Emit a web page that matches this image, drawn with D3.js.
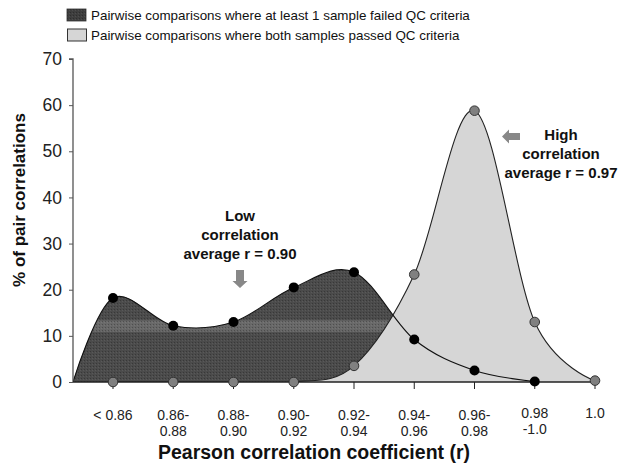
<!DOCTYPE html>
<html>
<head>
<meta charset="utf-8">
<script src="https://cdn.jsdelivr.net/npm/d3@7"></script>
<style>
  body { margin: 0; background: #fff; }
  svg { font-family: "Liberation Sans", Arial, sans-serif; }
</style>
</head>
<body>
<script>
const w = 624;
const h = 472;

// x categories, each label split into its printed lines
const categories = ['<0.86', '0.86-0.88', '0.88-0.90', '0.90-0.92', '0.92-0.94', '0.94-0.96', '0.96-0.98', '0.98-1.0', '1.0'];
const tickLabels = [['< 0.86'], ['0.86-', '0.88'], ['0.88-', '0.90'], ['0.90-', '0.92'], ['0.92-', '0.94'], ['0.94-', '0.96'], ['0.96-', '0.98'], ['0.98', '-1.0'], ['1.0']];

// % of pair correlations
const failedQC = [18.2, 12.2, 13.0, 20.5, 23.8, 9.2, 2.5, 0.1, null];
const passedQC = [0, 0, 0, 0, 3.5, 23.3, 58.8, 13.0, 0.3];

const yTicks = [0, 10, 20, 30, 40, 50, 60, 70];
const legendLabels = [
  'Pairwise comparisons where at least 1 sample failed QC criteria',
  'Pairwise comparisons where both samples passed QC criteria'
];

const plot = { left: 73, top: 59, bottom: 382, right: 595 };

const svg = d3.select('body').append('svg')
  .attr('width', w)
  .attr('height', h);

const defs = svg.append('defs');

const yScale = d3.scaleLinear().domain([0, 70]).range([plot.bottom, plot.top]);
const xScale = d3.scalePoint().domain(categories).range([113, plot.right]);

// dark fill: grey with a lighter horizontal band and a fine dotted texture
const grad = defs.append('linearGradient')
  .attr('id', 'darkGrad')
  .attr('gradientUnits', 'userSpaceOnUse')
  .attr('x1', 0).attr('x2', 0)
  .attr('y1', plot.top).attr('y2', plot.bottom);

const span = plot.bottom - plot.top;
const bandTop = (yScale(13.2) - plot.top) / span;
const bandBot = (yScale(11.0) - plot.top) / span;
[[0, '#4b4b4b'], [bandTop - 0.005, '#4b4b4b'], [bandTop, '#6a6a6a'], [bandBot, '#666'], [bandBot + 0.005, '#4b4b4b'], [1, '#4b4b4b']]
  .forEach(([o, c]) => grad.append('stop').attr('offset', o).attr('stop-color', c));

const pat = defs.append('pattern')
  .attr('id', 'dots')
  .attr('patternUnits', 'userSpaceOnUse')
  .attr('width', 3).attr('height', 3);
pat.append('rect').attr('width', 1).attr('height', 1).attr('fill', '#000').attr('opacity', 0.25);
pat.append('rect').attr('x', 2).attr('y', 1).attr('width', 1).attr('height', 1).attr('fill', '#fff').attr('opacity', 0.08);

defs.append('clipPath').attr('id', 'plotClip')
  .append('rect')
  .attr('x', plot.left).attr('y', plot.top - 5)
  .attr('width', plot.right - plot.left + 10)
  .attr('height', plot.bottom - plot.top + 5);

// legend
const legend = svg.append('g').attr('transform', 'translate(67, 9)');
legendLabels.forEach((label, i) => {
  const g = legend.append('g').attr('transform', `translate(0, ${i * 19.5})`);
  if (i === 0) {
    g.append('rect').attr('width', 19).attr('height', 12).attr('fill', '#3e3e3e');
    g.append('rect').attr('width', 19).attr('height', 12).attr('fill', 'url(#dots)');
    g.append('rect').attr('width', 19).attr('height', 12).attr('fill', 'none').attr('stroke', '#333').attr('stroke-width', 0.8);
  } else {
    g.append('rect').attr('x', 0.5).attr('y', 0.5).attr('width', 19).attr('height', 12)
      .attr('fill', '#d6d6d6').attr('stroke', '#333').attr('stroke-width', 1);
  }
  g.append('text')
    .attr('x', 24).attr('y', 11)
    .attr('font-size', 13.4)
    .attr('fill', '#111')
    .text(label);
});

// curves
const curve = d3.curveCardinal.tension(0);

const darkPts = [{ x: plot.left, v: 0 }].concat(
  categories.map((c, i) => ({ x: xScale(c), v: failedQC[i] })).filter(d => d.v !== null)
);
const lightPts = categories.map((c, i) => ({ x: xScale(c), v: passedQC[i] }));

const area = d3.area().x(d => d.x).y0(yScale(0)).y1(d => yScale(d.v)).curve(curve);
const line = d3.line().x(d => d.x).y(d => yScale(d.v)).curve(curve);

const chart = svg.append('g').attr('clip-path', 'url(#plotClip)');

chart.append('path').attr('d', area(darkPts)).attr('fill', 'url(#darkGrad)');
chart.append('path').attr('d', area(darkPts)).attr('fill', 'url(#dots)');
chart.append('path').attr('d', area(lightPts)).attr('fill', '#d6d6d6');
chart.append('path').attr('d', line(darkPts)).attr('fill', 'none').attr('stroke', '#111').attr('stroke-width', 1.1);
chart.append('path').attr('d', line(lightPts)).attr('fill', 'none').attr('stroke', '#222').attr('stroke-width', 1.1);

// axes
const yAxis = d3.axisLeft(yScale).tickValues(yTicks).tickSize(4).tickPadding(7);
const yG = svg.append('g')
  .attr('transform', `translate(${plot.left}, 0)`)
  .call(yAxis);
yG.select('.domain').attr('stroke', '#555').attr('stroke-width', 1.3).attr('d', `M-4,${plot.top}H0V${plot.bottom}`);
yG.selectAll('.tick line').attr('stroke', '#555');
yG.selectAll('.tick text').attr('font-size', 17.5).attr('fill', '#222').attr('font-family', '"Liberation Sans", Arial, sans-serif');

svg.append('line')
  .attr('x1', plot.left).attr('x2', plot.right)
  .attr('y1', yScale(0)).attr('y2', yScale(0))
  .attr('stroke', '#222').attr('stroke-width', 1.3);

const xG = svg.append('g');
categories.forEach((c, i) => {
  xG.append('line')
    .attr('x1', xScale(c)).attr('x2', xScale(c))
    .attr('y1', yScale(0)).attr('y2', yScale(0) + 7)
    .attr('stroke', '#222');
  tickLabels[i].forEach((l, j) => {
    xG.append('text')
      .attr('x', xScale(c))
      .attr('y', (i === 7 || i === 8 ? 418 : 420) + j * 15.5)
      .attr('text-anchor', 'middle')
      .attr('font-size', 14)
      .attr('fill', '#222')
      .text(l);
  });
});

// markers
svg.append('g').selectAll('circle')
  .data(darkPts.slice(1))
  .join('circle')
  .attr('cx', d => d.x)
  .attr('cy', d => yScale(d.v))
  .attr('r', 5)
  .attr('fill', '#000');

svg.append('g').selectAll('circle')
  .data(lightPts)
  .join('circle')
  .attr('cx', d => d.x)
  .attr('cy', d => yScale(d.v))
  .attr('r', 4.8)
  .attr('fill', '#808080')
  .attr('stroke', '#333')
  .attr('stroke-width', 1);

// annotations
function note(cx, y0, lines) {
  const t = svg.append('text')
    .attr('text-anchor', 'middle')
    .attr('font-size', 15)
    .attr('font-weight', 'bold')
    .attr('fill', '#111');
  lines.forEach((l, i) => t.append('tspan').attr('x', cx).attr('y', y0 + i * 19).text(l));
}
note(240, 221, ['Low', 'correlation', 'average r = 0.90']);
note(561, 140, ['High', 'correlation', 'average r = 0.97']);

// down arrow over the low-correlation hump
svg.append('path')
  .attr('d', 'M236,270H244V281H247.5L240,288L232.5,281H236Z')
  .attr('fill', '#888');
// left arrow pointing at the high-correlation peak
svg.append('path')
  .attr('d', 'M520,133V140H509V143.5L502,136.5L509,129.5V133Z')
  .attr('fill', '#888');

// axis titles
svg.append('text')
  .attr('transform', 'rotate(-90)')
  .attr('x', -200)
  .attr('y', 25)
  .attr('text-anchor', 'middle')
  .attr('font-size', 17)
  .attr('font-weight', 'bold')
  .attr('fill', '#111')
  .text('% of pair correlations');

svg.append('text')
  .attr('x', 314)
  .attr('y', 459)
  .attr('text-anchor', 'middle')
  .attr('font-size', 19.5)
  .attr('font-weight', 'bold')
  .attr('fill', '#111')
  .text('Pearson correlation coefficient (r)');
</script>
</body>
</html>
